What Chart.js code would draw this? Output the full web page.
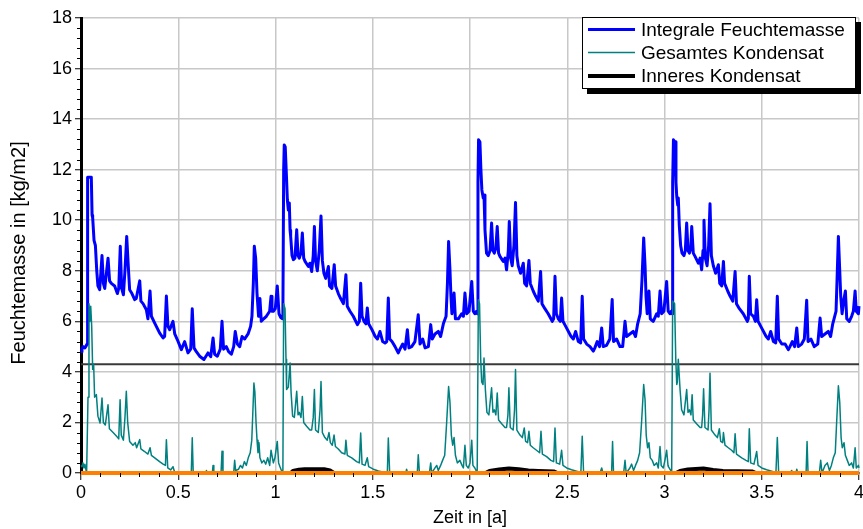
<!DOCTYPE html>
<html><head><meta charset="utf-8">
<script src="https://cdn.jsdelivr.net/npm/chart.js@4.4.1/dist/chart.umd.min.js"></script>
<style>html,body{margin:0;padding:0;background:#fff}</style>
</head><body>
<canvas id="c" width="863" height="529"></canvas>
<script>
// ---- tick labels ----
const xTickVals = [0, 0.5, 1, 1.5, 2, 2.5, 3, 3.5, 4];
const yTickVals = [0, 2, 4, 6, 8, 10, 12, 14, 16, 18];

// ---- series: Integrale Feuchtemasse [t (a), kg/m2] ----
const feuchte = [
[0,4.8],[0.005,4.9],[0.01,5.0],[0.02,4.95],[0.028,5.05],[0.031,5.1],[0.034,11.7],[0.039,11.7],[0.053,11.7],[0.057,10.2],
[0.060,10.1],[0.067,9.2],[0.074,9.0],[0.081,8.0],[0.087,7.4],[0.096,7.25],[0.108,8.6],[0.115,7.5],[0.122,7.3],[0.139,8.5],
[0.147,7.6],[0.156,7.5],[0.173,7.4],[0.187,7.1],[0.194,7.3],[0.202,8.97],[0.209,7.3],[0.218,7.05],[0.226,8.0],[0.235,9.36],
[0.243,8.2],[0.25,7.25],[0.262,7.1],[0.276,6.86],[0.284,6.9],[0.302,7.6],[0.308,6.8],[0.319,6.7],[0.336,6.46],[0.344,6.1],
[0.355,7.2],[0.362,6.2],[0.379,5.93],[0.404,5.54],[0.422,5.34],[0.43,5.4],[0.439,7.0],[0.447,5.8],[0.456,5.67],[0.473,6.0],
[0.482,5.5],[0.495,5.28],[0.516,4.88],[0.533,5.2],[0.55,4.75],[0.564,4.9],[0.572,6.5],[0.581,4.95],[0.593,4.8],[0.61,4.62],
[0.632,4.49],[0.653,4.75],[0.667,4.6],[0.679,5.34],[0.687,4.7],[0.701,4.62],[0.716,4.9],[0.725,6.0],[0.733,4.9],[0.747,5.0],
[0.759,4.8],[0.773,4.7],[0.785,5.0],[0.793,5.6],[0.804,5.1],[0.816,5.0],[0.828,5.4],[0.841,5.3],[0.859,5.5],[0.872,5.8],
[0.879,6.2],[0.886,7.5],[0.891,8.97],[0.898,8.5],[0.905,7.1],[0.913,6.2],[0.92,6.9],[0.927,6.0],[0.939,6.1],[0.953,6.2],
[0.97,6.4],[0.977,6.99],[0.982,6.4],[0.989,6.4],[0.999,6.5],[1.009,7.4],[1.018,6.3],[1.027,6.15],[1.036,6.1],
[1.038,6.3],[1.042,12.0],[1.045,12.98],[1.050,12.9],[1.056,11.8],[1.061,10.8],[1.066,10.4],[1.071,10.68],[1.075,9.6],[1.078,9.36],
[1.085,8.6],[1.092,8.44],[1.100,8.5],[1.109,9.62],[1.116,8.6],[1.122,8.5],[1.131,8.7],[1.138,9.49],[1.145,8.5],[1.152,8.37],
[1.169,8.17],[1.177,8.3],[1.186,7.97],[1.194,8.6],[1.2,9.75],[1.206,8.4],[1.215,8.0],[1.225,8.8],[1.234,10.17],[1.241,8.4],
[1.249,7.9],[1.258,7.7],[1.272,8.17],[1.278,7.4],[1.29,7.3],[1.302,8.24],[1.309,7.4],[1.323,7.1],[1.335,6.9],[1.349,6.7],
[1.362,7.84],[1.369,6.6],[1.383,6.4],[1.4,6.2],[1.421,5.87],[1.431,6.0],[1.438,7.51],[1.445,6.2],[1.455,6.0],[1.465,5.9],
[1.472,6.53],[1.479,5.9],[1.494,5.7],[1.512,5.41],[1.524,5.3],[1.537,5.6],[1.551,5.2],[1.563,5.14],[1.572,5.2],[1.58,6.92],
[1.587,5.3],[1.599,5.2],[1.614,5.01],[1.631,4.75],[1.64,4.9],[1.654,5.1],[1.666,4.9],[1.678,5.67],[1.686,4.95],[1.7,5.0],
[1.717,5.2],[1.734,6.26],[1.743,5.1],[1.757,5.3],[1.769,4.95],[1.786,5.0],[1.798,5.87],[1.806,5.3],[1.82,5.5],[1.837,5.6],
[1.849,5.4],[1.863,5.9],[1.877,6.2],[1.884,7.5],[1.89,9.16],[1.897,8.04],[1.902,7.0],[1.907,6.3],[1.918,7.12],[1.925,6.1],
[1.94,6.1],[1.957,6.3],[1.966,6.2],[1.974,7.12],[1.983,6.3],[1.995,6.4],[2.009,7.58],[2.017,6.4],
[2.025,6.3],[2.034,6.4],[2.037,6.3],[2.041,11.5],[2.044,13.18],[2.051,13.1],[2.056,12.0],[2.061,11.2],[2.068,10.88],[2.072,11.0],
[2.077,9.62],[2.085,8.7],[2.094,8.6],[2.103,8.8],[2.111,9.89],[2.118,8.8],[2.125,8.7],[2.133,8.9],[2.14,9.75],[2.147,8.7],
[2.154,8.57],[2.171,8.37],[2.18,8.5],[2.188,8.04],[2.197,8.8],[2.202,9.95],[2.209,8.5],[2.217,8.2],[2.226,9.0],[2.234,10.7],
[2.241,8.6],[2.248,8.2],[2.26,7.9],[2.274,8.3],[2.281,7.5],[2.291,7.4],[2.303,8.41],[2.31,7.5],[2.325,7.2],[2.337,7.0],
[2.351,6.8],[2.363,7.97],[2.37,6.7],[2.385,6.5],[2.402,6.3],[2.423,6.0],[2.43,6.1],[2.437,7.78],[2.444,6.3],[2.454,6.1],
[2.464,6.0],[2.471,6.92],[2.478,6.0],[2.492,5.8],[2.519,5.41],[2.531,5.3],[2.543,5.6],[2.557,5.2],[2.569,5.15],[2.577,6.99],
[2.584,5.3],[2.6,5.1],[2.617,5.0],[2.634,4.82],[2.642,4.95],[2.654,5.2],[2.666,5.0],[2.677,5.74],[2.685,5.0],[2.702,5.05],
[2.719,5.3],[2.731,6.86],[2.738,5.2],[2.754,5.3],[2.771,5.0],[2.785,5.0],[2.797,6.0],[2.805,5.4],[2.822,5.5],[2.839,5.6],
[2.851,5.4],[2.862,5.9],[2.875,6.3],[2.884,7.6],[2.893,9.3],[2.9,8.2],[2.905,7.0],[2.911,6.3],[2.92,7.2],[2.927,6.1],
[2.942,6.0],[2.96,6.3],[2.968,6.2],[2.977,7.2],[2.985,6.3],[2.997,6.4],[3.011,7.58],[3.019,6.4],
[3.028,6.3],[3.035,6.4],[3.039,6.3],[3.042,11.5],[3.046,13.18],[3.054,13.1],[3.059,11.5],[3.063,10.94],[3.068,10.6],[3.071,10.88],
[3.076,9.8],[3.083,9.0],[3.09,8.7],[3.1,8.6],[3.107,8.8],[3.114,9.89],[3.121,8.8],[3.128,8.7],[3.135,8.9],[3.14,9.75],
[3.148,8.7],[3.157,8.57],[3.174,8.3],[3.183,8.5],[3.191,8.04],[3.198,8.8],[3.203,10.0],[3.21,8.5],[3.219,8.2],[3.227,9.0],
[3.234,10.65],[3.241,8.6],[3.251,8.2],[3.263,7.9],[3.277,8.24],[3.284,7.5],[3.294,7.4],[3.303,8.37],[3.309,7.5],[3.325,7.2],
[3.337,7.0],[3.351,6.8],[3.363,7.97],[3.37,6.7],[3.385,6.5],[3.405,6.3],[3.426,6.0],[3.431,6.1],[3.436,7.78],[3.443,6.3],
[3.457,6.2],[3.467,6.0],[3.474,6.85],[3.481,6.0],[3.495,5.8],[3.522,5.41],[3.534,5.3],[3.546,5.6],[3.56,5.2],[3.572,5.15],
[3.58,6.99],[3.587,5.3],[3.603,5.1],[3.62,5.1],[3.637,4.88],[3.645,5.0],[3.657,5.2],[3.669,5.0],[3.68,5.74],[3.688,5.0],
[3.705,5.1],[3.719,5.3],[3.731,6.83],[3.738,5.2],[3.753,5.3],[3.77,5.0],[3.788,5.1],[3.8,6.13],[3.808,5.4],[3.825,5.5],
[3.842,5.6],[3.854,5.4],[3.865,5.9],[3.882,6.4],[3.887,7.6],[3.894,9.36],[3.901,8.0],[3.906,7.0],[3.913,6.3],[3.921,6.8],
[3.93,7.2],[3.937,6.1],[3.95,6.0],[3.962,6.2],[3.971,6.4],[3.98,7.2],[3.986,6.4],[3.997,6.3],[4.0,6.6]
];

// ---- series: Gesamtes Kondensat ----
const kondensat = [
[0,0.3],[0.005,0.25],[0.01,0.4],[0.015,0.2],[0.02,0.35],[0.026,0.1],[0.029,0.05],[0.036,3.0],[0.041,6.7],[0.046,6.0],
[0.05,6.6],[0.055,5.8],[0.06,4.1],[0.065,4.3],[0.07,3.0],[0.079,3.1],[0.087,2.25],[0.098,1.98],[0.108,2.97],[0.115,2.0],
[0.125,1.9],[0.139,2.7],[0.146,1.75],[0.165,1.6],[0.182,1.46],[0.194,1.35],[0.201,2.9],[0.207,1.5],[0.218,1.3],[0.226,2.2],
[0.233,3.23],[0.24,2.0],[0.25,1.25],[0.267,1.1],[0.279,1.2],[0.286,1.0],[0.302,1.32],[0.308,0.95],[0.327,0.85],[0.344,0.75],
[0.355,1.0],[0.362,0.7],[0.379,0.6],[0.404,0.45],[0.422,0.35],[0.434,0.3],[0.439,1.32],[0.446,0.2],[0.461,0.12],[0.473,0.25],
[0.482,0.02],[0.5,0],[0.567,0],[0.572,1.39],[0.577,0],[0.64,0],[0.645,0.1],[0.65,0],[0.675,0],[0.679,0.3],
[0.683,0],[0.72,0],[0.725,0.86],[0.73,0],[0.785,0],[0.79,0.5],[0.795,0.1],[0.81,0.15],[0.82,0.3],[0.83,0.2],
[0.84,0.45],[0.85,0.3],[0.86,0.6],[0.87,0.8],[0.878,1.3],[0.884,2.5],[0.889,3.56],[0.894,3.2],[0.9,2.0],[0.905,1.3],
[0.91,0.8],[0.915,1.2],[0.92,0.6],[0.93,0.4],[0.94,0.5],[0.95,0.35],[0.96,0.6],[0.97,0.3],
[0.977,0.9],[0.989,0.4],[0.997,0.6],[1.009,1.25],[1.016,0.4],[1.023,0.25],[1.033,0.05],[1.038,0.1],[1.042,6.7],[1.049,6.5],
[1.054,4.5],[1.057,3.3],[1.066,3.4],[1.075,4.35],[1.08,3.2],[1.088,2.25],[1.097,2.2],[1.109,3.23],[1.116,2.3],[1.122,2.4],
[1.131,2.2],[1.138,3.03],[1.145,2.0],[1.16,1.85],[1.177,1.7],[1.186,1.7],[1.194,2.2],[1.2,3.3],[1.206,1.7],[1.22,1.6],
[1.229,2.5],[1.234,3.62],[1.241,1.6],[1.254,1.4],[1.266,1.3],[1.275,1.6],[1.282,1.2],[1.292,1.1],[1.301,1.5],[1.308,1.05],
[1.323,0.95],[1.34,0.8],[1.357,0.75],[1.362,1.3],[1.369,0.7],[1.392,0.6],[1.417,0.45],[1.431,0.4],[1.438,1.58],[1.445,0.35],
[1.46,0.3],[1.472,0.6],[1.479,0.25],[1.503,0.15],[1.529,0.08],[1.563,0.02],[1.575,0],[1.58,1.38],[1.587,0],[1.67,0],
[1.674,0.15],[1.679,0],[1.729,0],[1.734,0.72],[1.74,0],[1.791,0],[1.798,0.4],[1.803,0],[1.82,0.2],[1.829,0.3],
[1.837,0.1],[1.849,0.3],[1.859,0.5],[1.87,0.7],[1.88,2.0],[1.89,3.42],[1.897,2.8],[1.904,1.5],[1.911,1.1],[1.918,1.4],
[1.925,0.7],[1.935,0.4],[1.948,0.5],[1.959,0.3],[1.966,0.2],[1.974,1.1],[1.981,0.3],[1.991,0.2],[2.0,0.4],[2.009,1.3],
[2.015,0.3],[2.025,0.2],[2.034,0.05],[2.037,0.1],[2.043,6.85],[2.049,6.7],[2.055,4.5],[2.06,3.6],[2.067,3.5],[2.072,4.55],
[2.079,3.3],[2.087,2.4],[2.097,2.3],[2.111,3.37],[2.118,2.4],[2.125,2.5],[2.133,2.3],[2.14,3.16],[2.147,2.1],[2.163,1.95],
[2.18,1.8],[2.188,1.8],[2.195,2.3],[2.2,3.37],[2.207,1.8],[2.222,1.7],[2.229,2.5],[2.234,4.09],[2.241,1.7],[2.257,1.5],
[2.269,1.4],[2.279,1.78],[2.286,1.25],[2.296,1.2],[2.303,1.65],[2.31,1.1],[2.325,1.0],[2.342,0.9],[2.358,0.8],[2.365,1.65],
[2.372,0.75],[2.394,0.65],[2.416,0.5],[2.43,0.45],[2.437,1.78],[2.444,0.4],[2.461,0.35],[2.471,0.9],[2.478,0.3],[2.497,0.2],
[2.522,0.13],[2.548,0.07],[2.57,0.02],[2.577,1.45],[2.584,0],[2.668,0],[2.677,0.2],[2.684,0],[2.728,0],[2.733,1.25],
[2.738,0],[2.79,0],[2.797,0.5],[2.803,0],[2.822,0.2],[2.831,0.35],[2.841,0.1],[2.851,0.3],[2.862,0.5],[2.872,0.8],
[2.882,2.0],[2.893,3.5],[2.9,2.9],[2.906,1.5],[2.913,1.0],[2.92,1.2],[2.927,0.6],[2.937,0.5],[2.947,0.3],[2.96,0.4],
[2.968,0.2],[2.977,1.05],[2.983,0.3],[2.994,0.2],[3.002,0.5],[3.011,0.9],[3.018,0.3],
[3.02,0.25],[3.028,0.15],[3.037,0.05],[3.042,6.8],[3.052,6.7],[3.058,4.5],[3.063,3.5],[3.066,3.6],[3.071,4.5],[3.08,3.3],
[3.088,2.5],[3.1,2.3],[3.114,3.3],[3.121,2.4],[3.128,2.5],[3.136,2.3],[3.142,3.1],[3.148,2.1],[3.165,1.95],[3.183,1.8],
[3.191,1.8],[3.196,2.3],[3.201,3.33],[3.208,1.8],[3.224,1.7],[3.229,2.5],[3.234,3.95],[3.241,1.7],[3.26,1.5],[3.272,1.4],
[3.282,1.75],[3.289,1.25],[3.299,1.2],[3.303,1.6],[3.311,1.1],[3.328,1.0],[3.345,0.9],[3.357,0.8],[3.363,1.55],[3.37,0.75],
[3.397,0.6],[3.419,0.5],[3.431,0.45],[3.436,1.75],[3.443,0.4],[3.46,0.35],[3.474,0.85],[3.481,0.3],[3.5,0.2],[3.525,0.13],
[3.551,0.07],[3.573,0.02],[3.58,1.4],[3.587,0],[3.645,0],[3.654,0.1],[3.659,0],[3.676,0],[3.68,0.15],[3.685,0],
[3.728,0],[3.733,1.25],[3.738,0],[3.796,0],[3.803,0.5],[3.81,0],[3.825,0.3],[3.837,0.4],[3.848,0.1],[3.858,0.3],
[3.868,0.6],[3.878,0.8],[3.885,2.0],[3.894,3.45],[3.901,2.8],[3.908,1.4],[3.914,1.0],[3.923,1.2],[3.93,0.7],[3.94,0.5],
[3.95,0.3],[3.962,0.4],[3.971,0.2],[3.98,1.0],[3.986,0.2],[3.997,0.3],[4.0,0.2]
];

// ---- series: Inneres Kondensat ----
const inneres = [
[0,0],[1.08,0],[1.09,0.08],[1.12,0.13],[1.15,0.15],[1.25,0.15],[1.28,0.1],[1.30,0],
[2.08,0],[2.1,0.08],[2.15,0.14],[2.2,0.18],[2.25,0.15],[2.3,0.1],[2.35,0.08],[2.43,0.06],[2.45,0],
[3.06,0],[3.08,0.08],[3.12,0.14],[3.2,0.18],[3.25,0.12],[3.3,0.08],[3.45,0.06],[3.47,0],[4,0]
];

// ---- unlabeled lines: orange zero line and dark reference line ----
const orangeLine = [[0,0],[4,0]];
const refLine = [[0,4.3],[4,4.3]];

const FONT = '"Liberation Sans", Arial, Helvetica, sans-serif';
const Y_TITLE = 'Feuchtemasse in [kg/m2]';
const toXY = arr => arr.map(p => ({x: p[0], y: p[1]}));

const minorTicks = {
  id: 'minorTicks',
  afterDraw(chart) {
    const {ctx, scales: {x, y}, chartArea} = chart;
    ctx.save();
    ctx.strokeStyle = '#000';
    ctx.lineWidth = 1;
    for (let i = 0; i <= 40; i++) {
      if (i % 5 === 0) continue;
      const px = Math.round(x.getPixelForValue(i / 10)) + 0.5;
      ctx.beginPath(); ctx.moveTo(px, chartArea.bottom); ctx.lineTo(px, chartArea.bottom + 4); ctx.stroke();
    }
    for (let i = 0; i <= 45; i++) {
      if (i % 5 === 0) continue;
      const py = Math.round(y.getPixelForValue(i * 0.4)) + 0.5;
      ctx.beginPath(); ctx.moveTo(chartArea.left, py); ctx.lineTo(chartArea.left - 4, py); ctx.stroke();
    }
    // y axis title (rotated, real text)
    ctx.fillStyle = '#000';
    ctx.font = '20px ' + FONT;
    ctx.textAlign = 'center';
    ctx.textBaseline = 'middle';
    ctx.translate(19, 253);
    ctx.rotate(-Math.PI / 2);
    ctx.fillText(Y_TITLE, 0, 0);
    ctx.restore();
  }
};

const boxLegend = {
  id: 'boxLegend',
  afterDraw(chart) {
    const ctx = chart.ctx;
    const items = chart.data.datasets.filter(d => d.inLegend);
    const x0 = 582, y0 = 17, w = 274, h = 72;
    ctx.save();
    ctx.fillStyle = '#000';
    ctx.fillRect(x0 + 5, y0 + 5, w, h);
    ctx.fillStyle = '#fff';
    ctx.fillRect(x0, y0, w, h);
    ctx.strokeStyle = '#000'; ctx.lineWidth = 1;
    ctx.strokeRect(x0 + 0.5, y0 + 0.5, w - 1, h - 1);
    const rows = [29.5, 52.5, 76];
    items.forEach((d, i) => {
      ctx.strokeStyle = d.borderColor; ctx.lineWidth = d.borderWidth;
      ctx.beginPath(); ctx.moveTo(588, rows[i]); ctx.lineTo(635, rows[i]); ctx.stroke();
      ctx.fillStyle = '#000';
      ctx.font = '19px ' + FONT;
      ctx.textBaseline = 'middle'; ctx.textAlign = 'left';
      ctx.fillText(d.label, 641, rows[i] + 1);
    });
    ctx.restore();
  }
};

new Chart(document.getElementById('c'), {
  type: 'line',
  data: {
    datasets: [
      {label: 'Integrale Feuchtemasse', data: toXY(feuchte), borderColor: '#0000ff', borderWidth: 3, order: 4, inLegend: true, clip: false},
      {label: 'Gesamtes Kondensat', data: toXY(kondensat), borderColor: '#008080', borderWidth: 1.5, order: 3, inLegend: true, clip: false},
      {label: 'Inneres Kondensat', data: toXY(inneres), borderColor: '#000000', borderWidth: 4, order: 2, inLegend: true, clip: false},
      {label: '', data: toXY(orangeLine), borderColor: '#ff8000', borderWidth: 4, order: 1, clip: false},
      {label: '', data: toXY(refLine), borderColor: '#3a3a3a', borderWidth: 2, order: 5, clip: false}
    ]
  },
  options: {
    responsive: false,
    animation: false,
    events: [],
    layout: {padding: {left: 0, right: 4, top: 18, bottom: 0}},
    plugins: {legend: {display: false}, tooltip: {enabled: false}},
    elements: {point: {radius: 0}, line: {tension: 0, borderCapStyle: 'butt', borderJoinStyle: 'round'}},
    scales: {
      x: {
        type: 'linear', min: 0, max: 4,
        afterBuildTicks: s => { s.ticks = xTickVals.map(v => ({value: v})); },
        afterFit: s => { s.height = 56; s.paddingLeft = 0; s.paddingRight = 0; },
        grid: {color: '#c8c8c8', lineWidth: 1.5, tickColor: '#000', tickLength: 7, tickWidth: 1},
        border: {display: true, color: '#000', width: 2},
        ticks: {font: {family: FONT, size: 18}, color: '#000', padding: 2, maxRotation: 0, autoSkip: false, callback: v => String(v)},
        title: {display: true, text: 'Zeit in [a]', font: {family: FONT, size: 18}, color: '#000', padding: {top: 0, bottom: 0}}
      },
      y: {
        type: 'linear', min: 0, max: 18,
        afterBuildTicks: s => { s.ticks = yTickVals.map(v => ({value: v})); },
        afterFit: s => { s.width = 81; s.paddingTop = 0; s.paddingBottom = 0; },
        grid: {color: '#c8c8c8', lineWidth: 1.5, tickColor: '#000', tickLength: 6, tickWidth: 1},
        border: {display: true, color: '#000', width: 3},
        ticks: {font: {family: FONT, size: 18}, color: '#000', padding: 3, autoSkip: false, callback: v => String(v)},
        title: {display: false, text: Y_TITLE}
      }
    }
  },
  plugins: [minorTicks, boxLegend]
});
</script>
</body></html>
